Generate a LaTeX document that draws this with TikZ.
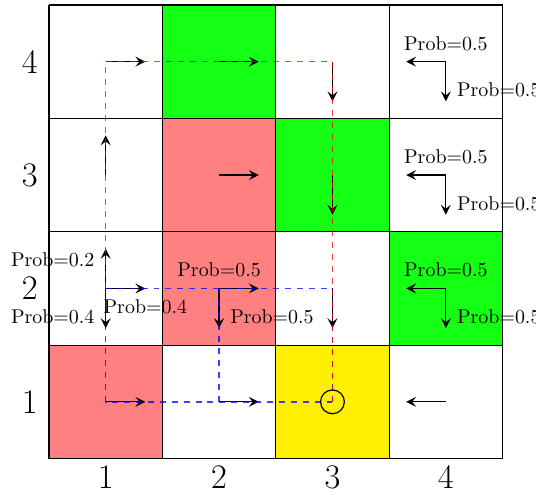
\documentclass[tikz,border=0pt]{standalone}
\definecolor{cellgreen}{RGB}{20,255,20}
\definecolor{cellred}{RGB}{255,128,128}
\definecolor{cellgoal}{RGB}{255,240,0}
\usetikzlibrary{arrows.meta}
\begin{document}
\begin{tikzpicture}[x=2cm, y=2cm, line width=0.6pt,
  move/.style={-{Stealth[length=5pt, width=5pt, inset=2pt]}},
  redpath/.style={red, dashed, line width=0.7pt, opacity=0.75},
  bluepath/.style={blue, dashed, line width=0.7pt, opacity=0.75},
  prob/.style={font=\normalsize},
  idx/.style={font=\LARGE}]
  \useasboundingbox (0.068,0.179) rectangle (4.795,4.544);
  % cell centres
  \foreach \i in {1,...,4}
    \foreach \j in {1,...,4}
      \coordinate (c\i\j) at (\i,\j);
  % coloured cells and grid
  \foreach \i/\j/\col in {2/4/cellgreen, 3/3/cellgreen, 4/2/cellgreen, 2/3/cellred, 2/2/cellred, 1/1/cellred, 3/1/cellgoal}
    \fill[\col] (\i-0.5,\j-0.5) rectangle ++(1,1);
  \draw[shift={(0.5,0.5)}, step=1] (0,0) grid (4,4);
  % row and column numbers
  \foreach \k in {1,...,4}{
    \node[idx, below] (col\k) at (\k,0.5) {\k};
    \node[idx, left=2pt] (row\k) at (0.5,\k) {\k};
  }
  % moves
  \foreach \i/\j/\dx/\dy in {1/4/0.35/0, 2/4/0.35/0, 3/4/0/-0.35, 1/3/0/0.35, 2/3/0.35/0, 3/3/0/-0.35,
      4/4/-0.35/0, 4/4/0/-0.35, 4/3/-0.35/0, 4/3/0/-0.35, 4/2/-0.35/0, 4/2/0/-0.35,
      1/2/0/0.35, 1/2/0/-0.35, 1/2/0.35/0, 2/2/0.35/0, 2/2/0/-0.35, 3/2/0/-0.35,
      1/1/0.35/0, 2/1/0.35/0, 4/1/-0.35/0}
    \draw[move] (c\i\j) -- ++(\dx,\dy);
  % probabilities
  \foreach \j in {4,3,2}{
    \node[prob, above=2pt] (pl\j) at (c4\j) {Prob=0.5};
    \node[prob, right=2pt] (pd\j) at ([shift={(0,-0.25)}]c4\j) {Prob=0.5};
  }
  \node[prob, above=2pt] (pr22) at (c22) {Prob=0.5};
  \node[prob, right=2pt] (pd22) at ([shift={(0,-0.25)}]c22) {Prob=0.5};
  \node[prob, left=2pt] (pu12) at ([shift={(0,0.25)}]c12) {Prob=0.2};
  \node[prob, left=2pt] (pd12) at ([shift={(0,-0.25)}]c12) {Prob=0.4};
  \node[prob, below=2pt] (pr12) at ([shift={(0.35,0)}]c12) {Prob=0.4};
  % paths
  \draw[bluepath] (c12) -- (c32) -- (c31);
  \draw[bluepath] (c12) -- (c11) -- (c31);
  \draw[bluepath] (c22) -- (c21);
  \draw[redpath] (c12) -- (c14) -- (c34) -- (c31);
  \draw (c31) circle (0.105);
\end{tikzpicture}
\end{document}
